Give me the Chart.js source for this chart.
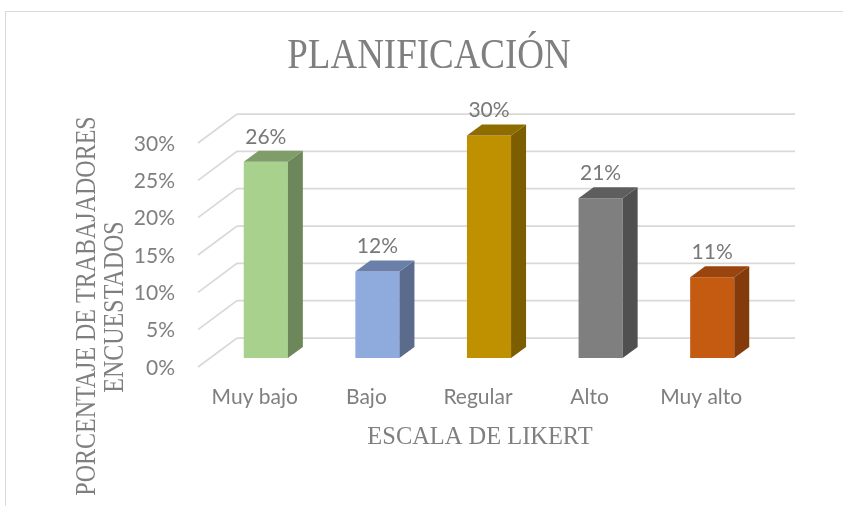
<!DOCTYPE html>
<html>
<head>
<meta charset="utf-8">
<script src="https://cdn.jsdelivr.net/npm/chart.js@4.4.1/dist/chart.umd.min.js"></script>
<style>
  html, body { margin: 0; padding: 0; background: #fff; }
  #wrap { position: relative; width: 843px; height: 506px; }
</style>
</head>
<body>
<div id="wrap"><canvas id="chartPlanificacion"></canvas></div>
<script>
const categorias = ["Muy bajo", "Bajo", "Regular", "Alto", "Muy alto"];
const porcentajes = [26.3, 11.6, 29.8, 21.4, 10.8];
const ticksY = [0, 5, 10, 15, 20, 25, 30];

const colorFrente = ["#A9D18E", "#8FAADC", "#BF9000", "#7F7F7F", "#C55A11"];
const colorLado = ["#6C8759", "#5A6B8C", "#7C5D00", "#505050", "#833B0B"];
const colorTapa = ["#7E9D69", "#6A80AA", "#8E6C00", "#5E5E5E", "#9A440E"];

const textGray = "#7F7F7F";
const gridGray = "#D9D9D9";

// 3D offsets relative to the plane of the bar front faces
const frontPlane = { dx: -12, dy: 9 };
const backPlane = { dx: 27, dy: -20 };
const barDepth = { dx: 15, dy: -11 };

function drawText(ctx, text, x, y, size, sx, vertical) {
  ctx.save();
  ctx.translate(x, y);
  if (vertical) {
    ctx.rotate(-Math.PI / 2);
  }
  ctx.scale(sx, 1);
  ctx.font = `${size}px "Liberation Serif", "Times New Roman", serif`;
  ctx.fillStyle = textGray;
  ctx.textAlign = "center";
  ctx.textBaseline = "alphabetic";
  ctx.fillText(text, 0, 0);
  ctx.restore();
}

const frame3d = {
  id: "frame3d",
  beforeDraw(chart) {
    const { ctx } = chart;
    ctx.save();
    ctx.fillStyle = "#fff";
    ctx.fillRect(0, 0, chart.width, chart.height);
    ctx.strokeStyle = gridGray;
    ctx.lineWidth = 1;
    ctx.strokeRect(5.5, 11.5, chart.width + 20, chart.height + 20);
    ctx.restore();

    drawText(ctx, "PLANIFICACIÓN", 429, 68, 42, 0.88, false);
    drawText(ctx, "ESCALA DE LIKERT", 480, 444, 26, 0.94, false);
    drawText(ctx, "PORCENTAJE DE TRABAJADORES", 95, 306, 30, 0.8, true);
    drawText(ctx, "ENCUESTADOS", 123, 307, 30, 0.8, true);
  },
  beforeDatasetsDraw(chart) {
    const { ctx, chartArea } = chart;
    const y = chart.scales.y;
    ctx.save();
    ctx.strokeStyle = gridGray;
    ctx.lineWidth = 1.75;
    ticksY.forEach((v) => {
      const py = y.getPixelForValue(v);
      ctx.beginPath();
      ctx.moveTo(chartArea.left + frontPlane.dx, py + frontPlane.dy);
      ctx.lineTo(chartArea.left + backPlane.dx, py + backPlane.dy);
      ctx.lineTo(chartArea.right + backPlane.dx, py + backPlane.dy);
      ctx.stroke();
    });
    ctx.restore();
  },
  afterDatasetsDraw(chart) {
    const { ctx } = chart;
    const meta = chart.getDatasetMeta(0);
    ctx.save();
    meta.data.forEach((bar, i) => {
      const half = bar.width / 2;
      const left = bar.x - half;
      const right = bar.x + half;

      ctx.fillStyle = colorLado[i];
      ctx.beginPath();
      ctx.moveTo(right, bar.y);
      ctx.lineTo(right + barDepth.dx, bar.y + barDepth.dy);
      ctx.lineTo(right + barDepth.dx, bar.base + barDepth.dy);
      ctx.lineTo(right, bar.base);
      ctx.closePath();
      ctx.fill();

      ctx.fillStyle = colorTapa[i];
      ctx.beginPath();
      ctx.moveTo(left, bar.y);
      ctx.lineTo(left + barDepth.dx, bar.y + barDepth.dy);
      ctx.lineTo(right + barDepth.dx, bar.y + barDepth.dy);
      ctx.lineTo(right, bar.y);
      ctx.closePath();
      ctx.fill();

      ctx.font = '21px Lato, "Open Sans", sans-serif';
      ctx.fillStyle = "#787878";
      ctx.textAlign = "center";
      ctx.textBaseline = "alphabetic";
      ctx.fillText(Math.round(porcentajes[i]) + "%", bar.x, bar.y - 18);
    });
    ctx.restore();
  }
};

Chart.defaults.font.family = 'Lato, "Open Sans", sans-serif';
Chart.defaults.color = textGray;

new Chart(document.getElementById("chartPlanificacion"), {
  type: "bar",
  data: {
    labels: categorias,
    datasets: [{
      data: porcentajes,
      backgroundColor: colorFrente,
      borderWidth: 0,
      categoryPercentage: 1,
      barPercentage: 0.395
    }]
  },
  options: {
    responsive: true,
    maintainAspectRatio: false,
    animation: false,
    layout: { padding: { top: 134, right: 75, left: 0, bottom: 0 } },
    plugins: {
      legend: { display: false },
      title: { display: false },
      tooltip: { enabled: false }
    },
    scales: {
      x: {
        grid: { display: false, drawTicks: false },
        border: { display: false },
        ticks: {
          color: textGray,
          font: { size: 21 },
          padding: 27,
          labelOffset: -11,
          maxRotation: 0,
          autoSkip: false
        },
        afterFit(scale) { scale.height = 148; }
      },
      y: {
        min: 0,
        max: 30,
        grid: { display: false, drawTicks: false },
        border: { display: false },
        afterBuildTicks(scale) { scale.ticks = ticksY.map((v) => ({ value: v })); },
        ticks: {
          color: textGray,
          font: { size: 21 },
          padding: 35,
          labelOffset: 10,
          callback: (v) => v + "%"
        },
        afterFit(scale) { scale.width = 210; }
      }
    }
  },
  plugins: [frame3d]
});
</script>
</body>
</html>
